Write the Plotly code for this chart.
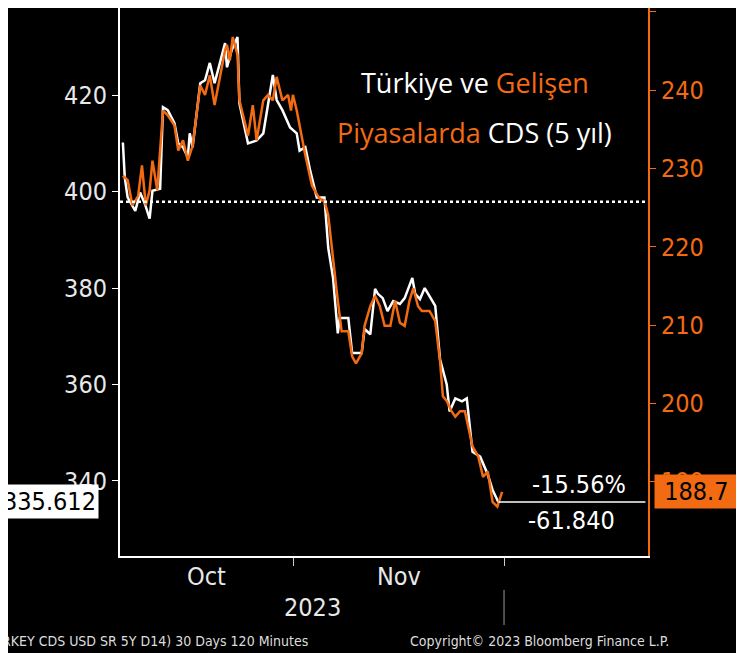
import plotly.graph_objects as go

# Turkey CDS (left axis), time in trading days from Nov 1, 2023
tr_t = [-17.9,-17.7,-17.4,-16.6,-16.1,-15.6,-15.1,-14.8,-14.0,-13.7,
        -13.2,-12.5,-12.1,-11.6,-11.1,-10.9,-10.6,-9.8,-9.3,-8.8,
        -8.3,-7.7,-7.2,-7.0,-6.5,-5.9,-5.7,-4.8,-3.9,-3.2,
        -2.2,-1.8,-1.2,-0.4,0.3,0.6,1.2,1.7,2.4,3.2,
        3.6,4.1,4.6,4.8,5.7,6.1,7.1,7.4,8.0,8.5,
        8.8,9.3,9.8,10.4,11.1,11.6,12.4,12.7,13.2,13.7,
        14.8,15.3,16.0,16.3,16.9,17.6,18.1,18.7,19.5,20.3,
        20.8,21.4]
tr_v = [410.2,402.9,398.8,396.0,399.8,397.5,394.4,400.2,400.6,417.5,
        416.9,414.2,410.0,409.2,407.1,412.1,409.2,422.5,423.1,426.7,
        422.5,427.3,430.8,425.8,429.4,432.1,418.3,410.0,410.6,412.1,
        424.2,419.0,416.9,413.3,412.1,408.5,409.2,404.4,398.8,398.8,
        388.3,382.1,370.6,373.8,373.8,366.5,366.5,371.5,370.4,379.8,
        378.8,377.9,375.2,377.3,376.7,377.9,382.1,378.8,377.7,380.0,
        376.3,365.2,360.0,354.4,357.1,356.5,357.1,346.0,345.0,341.3,
        338.1,335.6]

# Emerging markets CDS (right axis)
em_t = [-17.9,-17.4,-16.9,-16.3,-15.9,-15.5,-15.1,-14.8,-14.3,-13.7,
        -13.2,-12.5,-12.1,-11.6,-11.1,-10.6,-9.8,-9.3,-8.8,-8.3,
        -7.7,-7.2,-7.0,-6.7,-6.4,-5.9,-5.7,-4.8,-4.3,-3.9,
        -3.2,-2.7,-2.2,-1.8,-1.2,-0.6,-0.3,-0.1,0.3,0.6,
        1.2,1.9,2.5,2.9,3.2,3.6,4.1,4.6,5.0,5.7,
        6.1,6.5,7.1,7.4,8.0,8.5,9.0,9.5,10.1,10.6,
        11.1,11.6,12.1,12.5,13.0,13.4,14.2,14.8,15.3,15.6,
        16.0,16.5,16.9,17.4,17.9,18.7,19.3,19.8,20.3,20.8,
        21.3,21.8]
em_v = [229.1,228.5,225.3,226.5,230.4,225.3,227.2,231.0,227.2,237.4,
        236.8,235.5,232.3,233.6,231.0,232.9,240.6,239.4,241.9,238.1,
        241.9,245.1,245.8,243.8,246.8,244.5,238.7,234.2,238.1,233.6,
        238.7,239.4,238.7,241.7,238.7,239.4,237.4,239.4,237.4,235.5,
        231.7,227.8,226.5,225.9,225.9,224.0,218.2,213.1,209.2,209.2,
        206.0,205.1,206.4,209.9,212.4,213.7,212.4,209.9,209.9,213.1,
        210.3,209.9,213.1,214.7,212.4,211.8,211.8,210.5,205.4,200.9,
        200.3,199.0,198.3,199.0,199.0,194.5,193.2,190.6,191.3,187.4,
        186.8,188.7]

left_ticks = [340, 360, 380, 400, 420]
right_ticks = [190, 200, 210, 220, 230, 240, 250]
month_labels = ["Oct", "Nov"]
month_pos = [-9.1, 11.0]
month_bounds = [0, 22]
year_label = "2023"
year_pos = 2.0
ref_level = 397.9
tr_last = 335.612
em_last = 188.7
pct_change = "-15.56%"
abs_change = "-61.840"

ORANGE = "#f26b12"
FONT = "DejaVu Sans Condensed, Roboto, sans-serif"
XR = [-18.2, 37.07]

fig = go.Figure()
fig.add_trace(go.Scatter(x=em_t, y=em_v, yaxis="y2", mode="lines",
                         line=dict(color=ORANGE, width=2.5), showlegend=False))
fig.add_trace(go.Scatter(x=tr_t, y=tr_v, mode="lines",
                         line=dict(color="white", width=2.5), showlegend=False))

fig.update_layout(
    width=744, height=653, paper_bgcolor="black", plot_bgcolor="black",
    margin=dict(l=112, r=104, t=0, b=105, autoexpand=False),
    xaxis=dict(range=XR, showgrid=False, zeroline=False, tickvals=month_bounds,
               ticktext=["", ""], ticks="outside", ticklen=8, tickcolor="#ccc",
               showline=True, linecolor="white", linewidth=2, automargin=False),
    yaxis=dict(range=[324.4, 438.1], tickvals=left_ticks, showgrid=False, zeroline=False,
               ticks="outside", ticklen=6, tickcolor="white", showline=True,
               linecolor="white", linewidth=2, automargin=False,
               tickfont=dict(family=FONT, size=25, color="#e8e8e8")),
    yaxis2=dict(range=[180.5, 250.5], overlaying="y", side="right", tickvals=right_ticks,
                showgrid=False, zeroline=False, ticks="outside", ticklen=6,
                tickcolor=ORANGE, showline=True, linecolor=ORANGE, linewidth=2,
                automargin=False,
                tickfont=dict(family=FONT, size=25, color=ORANGE)),
)

fig.add_shape(type="line", xref="paper", x0=0, x1=1, yref="y", y0=ref_level, y1=ref_level,
              line=dict(color="white", width=2.5, dash="dot"))
fig.add_shape(type="line", xref="x", x0=tr_t[-1], x1=36.8, yref="y", y0=tr_last, y1=tr_last,
              line=dict(color="white", width=1.5))
fig.add_shape(type="line", xref="x", x0=month_bounds[1], x1=month_bounds[1], yref="paper",
              y0=-0.062, y1=-0.126, line=dict(color="#999", width=1))

for lab, pos in zip(month_labels, month_pos):
    fig.add_annotation(x=pos, xref="x", y=-0.007, yref="paper", yanchor="top", text=lab,
                       showarrow=False, font=dict(family=FONT, size=25, color="#e8e8e8"))
fig.add_annotation(x=year_pos, xref="x", y=-0.064, yref="paper", yanchor="top",
                   text=year_label, showarrow=False,
                   font=dict(family=FONT, size=25, color="#e8e8e8"))

fig.add_annotation(x=0.87, xref="paper", xanchor="center", y=tr_last, yref="y",
                   yanchor="bottom", yshift=1, text=pct_change, showarrow=False,
                   font=dict(family=FONT, size=25, color="white"))
fig.add_annotation(x=0.855, xref="paper", xanchor="center", y=tr_last, yref="y",
                   yanchor="top", yshift=-2, text=abs_change, showarrow=False,
                   font=dict(family=FONT, size=25, color="white"))

fig.add_annotation(x=-0.227, xref="paper", xanchor="left", y=tr_last, yref="y",
                   text=f"{tr_last:.3f}", showarrow=False, bgcolor="white", borderpad=2,
                   font=dict(family=FONT, size=25, color="black"))
fig.add_annotation(x=1.012, xref="paper", xanchor="left", y=em_last, yref="y2",
                   text=f" {em_last}  ", showarrow=False, bgcolor=ORANGE, borderpad=2,
                   font=dict(family=FONT, size=25, color="black"))

fig.add_annotation(x=0.672, xref="paper", xanchor="center", y=0.901, yref="paper",
                   showarrow=False,
                   text=f"Türkiye ve <span style='color:{ORANGE}'>Gelişen</span>",
                   font=dict(family="Open Sans", size=27, color="white"))
fig.add_annotation(x=0.672, xref="paper", xanchor="center", y=0.81, yref="paper",
                   showarrow=False,
                   text=f"<span style='color:{ORANGE}'>Piyasalarda</span> CDS (5 yıl)",
                   font=dict(family="Open Sans", size=27, color="white"))

fig.add_annotation(x=-0.227, xref="paper", xanchor="left", y=-0.155, yref="paper",
                   yanchor="middle", showarrow=False,
                   text="RKEY CDS USD SR 5Y D14) 30 Days 120 Minutes",
                   font=dict(family=FONT, size=14, color="#ddd"))
fig.add_annotation(x=(408 - 120) / 528, xref="paper", xanchor="left", y=-0.155,
                   yref="paper", yanchor="middle", showarrow=False,
                   text="Copyright© 2023 Bloomberg Finance L.P.",
                   font=dict(family=FONT, size=14, color="#ddd"))

fig.write_html("out.html")
